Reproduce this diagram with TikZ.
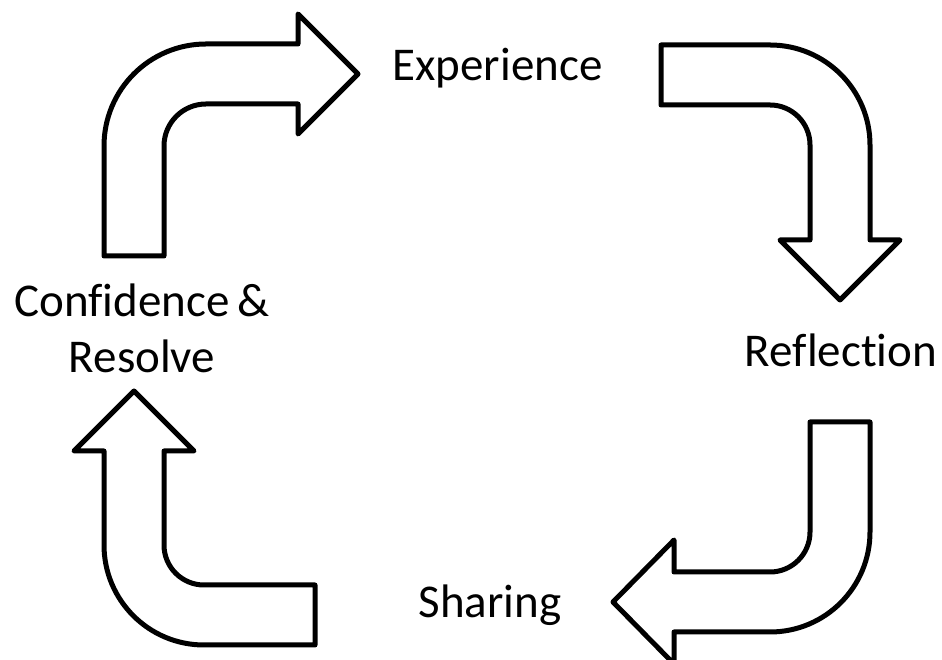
\documentclass[tikz,border=0pt]{standalone}
\usepackage{fontspec}
\setmainfont[Ligatures=NoCommon]{Carlito}

\begin{document}
\begin{tikzpicture}[x=1pt, y=1pt,
		bentarrow/.style={draw, line width=5pt, line join=round},
		lbl/.style={font=\fontsize{47}{56}\selectfont, anchor=base, inner sep=0pt}]
			\useasboundingbox (0,0) rectangle (942,660);

			% Bent arrow up and to the right (top left)
			\draw[bentarrow] (104,404) -- (104,514) arc[start angle=180, end angle=90, radius=102]
				-- (298,616) -- (298,646) -- (358,586) -- (298,526) -- (298,556) -- (206,556)
				arc[start angle=90, end angle=180, radius=42] -- (164,404) -- cycle;

			% Bent arrow right and down (top right)
			\draw[bentarrow] (661,615) -- (770,615) arc[start angle=90, end angle=0, radius=100]
				-- (870,420) -- (900,420) -- (840,360) -- (780,420) -- (810,420) -- (810,515)
				arc[start angle=0, end angle=90, radius=40] -- (661,555) -- cycle;

			% Bent arrow down and to the left (bottom right)
			\draw[bentarrow] (810,238) -- (870,238) -- (870,128) arc[start angle=0, end angle=-90, radius=100]
				-- (674,28) -- (674,-4) -- (613,58) -- (674,120) -- (674,88) -- (770,88)
				arc[start angle=-90, end angle=0, radius=40] -- cycle;

			% Bent arrow left and up (bottom left)
			\draw[bentarrow] (315,15) -- (204,15) arc[start angle=-90, end angle=-180, radius=100]
				-- (104,209) -- (74,209) -- (134,269) -- (194,209) -- (164,209) -- (164,115)
				arc[start angle=180, end angle=270, radius=40] -- (315,75) -- cycle;

			% Labels for stages
			\node[lbl] (exp) at (497.5,579) {Experience};
			\node[lbl] (refl) at (841,293) {Reflection};
			\node[lbl] (shar) at (490,42) {Sharing};
			\node[lbl, align=center] (conf) at (142,287) {Confidence\,\&\\Resolve};
		\end{tikzpicture}
\end{document}
